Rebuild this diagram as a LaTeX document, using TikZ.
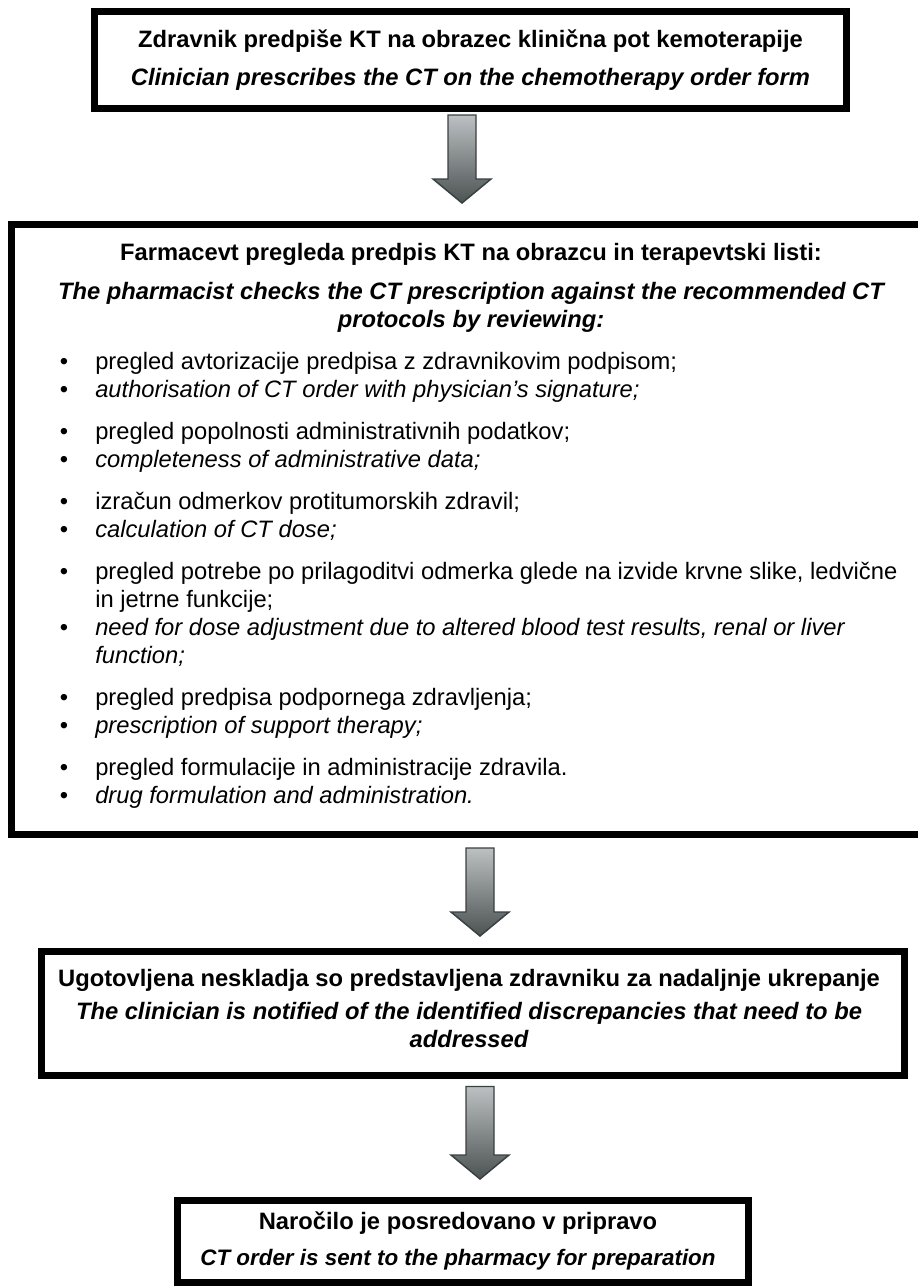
\documentclass[tikz,border=0pt]{standalone}
\usepackage{fontspec}
\setmainfont{Liberation Sans}
\usetikzlibrary{calc}
\definecolor{arrowtop}{HTML}{BCC0C2}
\definecolor{arrowbot}{HTML}{4C5353}
\definecolor{arrowedge}{HTML}{394040}

% downward block arrow from the coordinate #1 (top of shaft) to #2 (tip)
\newcommand\blockarrow[2]{%
  \path[flowarrow] let \p1=(#1), \p2=(#2) in
    (\x1-10.5pt,\y1) -- (\x1+10.5pt,\y1) -- (\x1+10.5pt,\y2+18pt)
    -- (\x1+21.75pt,\y2+18pt) -- (\x1,\y2) -- (\x1-21.75pt,\y2+18pt)
    -- (\x1-10.5pt,\y2+18pt) -- cycle;}

\begin{document}
\fontsize{17.8pt}{21pt}\selectfont
\begin{tikzpicture}[x=0.75pt,y=-0.75pt,
  box/.style={draw=black,line width=5.25pt,fill=white,inner sep=0pt},
  flowarrow/.style={draw=arrowedge,line width=1.1pt,line join=miter,
                    top color=arrowtop,bottom color=arrowbot},
  head/.style={anchor=base,inner sep=0pt,font=\bfseries},
  headit/.style={anchor=base,inner sep=0pt,font=\bfseries\itshape},
  item/.style={anchor=base west,inner sep=0pt},
  itemit/.style={anchor=base west,inner sep=0pt,font=\itshape},
  dot/.style={anchor=base,inner sep=0pt}]
\useasboundingbox (0,0) rectangle (918,1286);

% the four steps
\node[box,minimum width=564pt,minimum height=72.75pt] (order) at (470.5,60) {};
\node[box,minimum width=685.125pt,minimum height=457.5pt] (check) at (468.25,529.5) {};
\node[box,minimum width=647.25pt,minimum height=92.625pt] (notify) at (472.5,1013.25) {};
\node[box,minimum width=428.25pt,minimum height=61.125pt] (send) at (463,1241.25) {};

% step 1
\node[head] (o1) at (470.5,47) {Zdravnik predpiše KT na obrazec klinična pot kemoterapije};
\node[headit] (o2) at (470.5,85) {Clinician prescribes the CT on the chemotherapy order form};

% step 2
\node[head] (c1) at (471,260) {Farmacevt pregleda predpis KT na obrazcu in terapevtski listi:};
\node[headit] (c2) at (471,299) {The pharmacist checks the CT prescription against the recommended CT};
\node[headit] (c3) at (471,327) {protocols by reviewing:};

\node[dot] (d1) at (64,369) {\textbullet};
\node[item] (i1) at (95,369) {pregled avtorizacije predpisa z zdravnikovim podpisom;};
\node[dot] (d2) at (64,397) {\textbullet};
\node[itemit] (i2) at (95,397) {authorisation of CT order with physician's signature;};

\node[dot] (d3) at (64,439) {\textbullet};
\node[item] (i3) at (95,439) {pregled popolnosti administrativnih podatkov;};
\node[dot] (d4) at (64,467) {\textbullet};
\node[itemit] (i4) at (95,467) {completeness of administrative data;};

\node[dot] (d5) at (64,509) {\textbullet};
\node[item] (i5) at (95,509) {izračun odmerkov protitumorskih zdravil;};
\node[dot] (d6) at (64,537) {\textbullet};
\node[itemit] (i6) at (95,537) {calculation of CT dose;};

\node[dot] (d7) at (64,579) {\textbullet};
\node[item] (i7) at (95,579) {pregled potrebe po prilagoditvi odmerka glede na izvide krvne slike, ledvične};
\node[item] (i7b) at (95,607) {in jetrne funkcije;};
\node[dot] (d8) at (64,635) {\textbullet};
\node[itemit] (i8) at (95,635) {need for dose adjustment due to altered blood test results, renal or liver};
\node[itemit] (i8b) at (95,663) {function;};

\node[dot] (d9) at (64,705) {\textbullet};
\node[item] (i9) at (95,705) {pregled predpisa podpornega zdravljenja;};
\node[dot] (d10) at (64,733) {\textbullet};
\node[itemit] (i10) at (95,733) {prescription of support therapy;};

\node[dot] (d11) at (64,775) {\textbullet};
\node[item] (i11) at (95,775) {pregled formulacije in administracije zdravila.};
\node[dot] (d12) at (64,803) {\textbullet};
\node[itemit] (i12) at (95,803) {drug formulation and administration.};

% step 3
\node[head] (n1) at (469,986) {Ugotovljena neskladja so predstavljena zdravniku za nadaljnje ukrepanje};
\node[headit] (n2) at (469,1019) {The clinician is notified of the identified discrepancies that need to be};
\node[headit] (n3) at (469,1047) {addressed};

% step 4
\node[head] (s1) at (458,1229) {Naročilo je posredovano v pripravo};
\node[headit,font=\fontsize{16.8pt}{20pt}\selectfont\bfseries\itshape] (s2) at (458,1265) {CT order is sent to the pharmacy for preparation};

% arrows between the steps
\coordinate (a1s) at ($(order.south)+(-8.5,3)$);
\coordinate (a1e) at ($(a1s |- check.north)+(0,-18)$);
\coordinate (a2s) at ($(check.south)+(11.75,10)$);
\coordinate (a2e) at ($(a2s |- notify.north)+(0,-12)$);
\coordinate (a3s) at ($(notify.south)+(7.5,8)$);
\coordinate (a3e) at ($(a3s |- send.north)+(0,-18)$);
\blockarrow{a1s}{a1e}
\blockarrow{a2s}{a2e}
\blockarrow{a3s}{a3e}
\end{tikzpicture}
\end{document}
